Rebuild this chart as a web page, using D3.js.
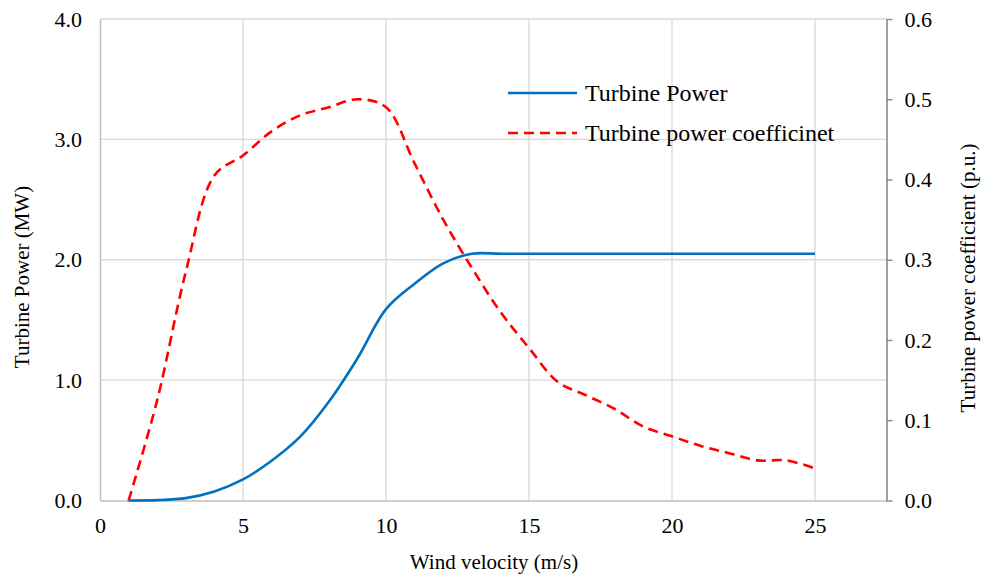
<!DOCTYPE html>
<html>
<head>
<meta charset="utf-8">
<script src="https://cdn.jsdelivr.net/npm/d3@7"></script>
<style>
  body { margin: 0; background: #fff; }
  svg text { font-family: "Liberation Serif", "Times New Roman", serif; fill: #000; }
</style>
</head>
<body>
<svg id="chart" width="983" height="576"></svg>
<script>
// ---- data ----
const windSpeed = [1, 2, 3, 4, 5, 6, 7, 8, 9, 10, 11, 12, 13, 14, 15, 16, 17, 18, 19, 20, 21, 22, 23, 24, 25];
const turbinePower = [0, 0.003, 0.02, 0.075, 0.175, 0.33, 0.53, 0.82, 1.18, 1.59, 1.80, 1.97, 2.05, 2.05, 2.05, 2.05, 2.05, 2.05, 2.05, 2.05, 2.05, 2.05, 2.05, 2.05, 2.05];
const powerCoeff = [0, 0.125, 0.285, 0.405, 0.43, 0.46, 0.48, 0.49, 0.50, 0.49, 0.42, 0.35, 0.29, 0.235, 0.19, 0.148, 0.131, 0.114, 0.092, 0.080, 0.068, 0.059, 0.050, 0.050, 0.040];
const xTicks = [0, 5, 10, 15, 20, 25];
const yLeftTicks = [0, 1, 2, 3, 4];
const yRightTicks = [0, 0.1, 0.2, 0.3, 0.4, 0.5, 0.6];
const seriesNames = ["Turbine Power", "Turbine power coefficinet"];

const svg = d3.select("#chart");
const L = 100, R = 886.5, T = 19, B = 500.5;

const x = d3.scaleLinear().domain([0, 27.5]).range([L, R]);
const yL = d3.scaleLinear().domain([0, 4]).range([B, T]);
const yR = d3.scaleLinear().domain([0, 0.6]).range([B, T]);

// gridlines
svg.append("g").selectAll("line").data(yLeftTicks.filter(d => d > 0)).join("line")
  .attr("x1", L).attr("x2", R).attr("y1", d => yL(d)).attr("y2", d => yL(d))
  .attr("stroke", "#d9d9d9").attr("stroke-width", 1.3);
svg.append("g").selectAll("line").data(xTicks.filter(d => d > 0)).join("line")
  .attr("y1", T).attr("y2", B).attr("x1", d => x(d)).attr("x2", d => x(d))
  .attr("stroke", "#d9d9d9").attr("stroke-width", 1.3);

// left axis
const gl = svg.append("g").attr("transform", `translate(${L},0)`)
  .call(d3.axisLeft(yL).tickValues(yLeftTicks).tickFormat(d3.format(".1f")).tickSize(0).tickPadding(18));
gl.select(".domain").attr("stroke", "#bfbfbf").attr("stroke-width", 1.5);
gl.selectAll("text").style("font-size", "22px");

// bottom axis
const gb = svg.append("g").attr("transform", `translate(0,${B})`)
  .call(d3.axisBottom(x).tickValues(xTicks).tickFormat(d3.format("d")).tickSize(0).tickPadding(17));
gb.select(".domain").attr("stroke", "#bfbfbf").attr("stroke-width", 1.5);
gb.selectAll("text").style("font-size", "22px");

// right axis
const gr = svg.append("g").attr("transform", `translate(${R},0)`)
  .call(d3.axisRight(yR).tickValues(yRightTicks).tickFormat(d3.format(".1f")).tickSizeInner(6).tickSizeOuter(0).tickPadding(12));
gr.select(".domain").attr("stroke", "#808080").attr("stroke-width", 1.5);
gr.selectAll(".tick line").attr("stroke", "#808080").attr("stroke-width", 1.3);
gr.selectAll("text").style("font-size", "22px");

// lines
const powerLine = d3.line().x((d, i) => x(windSpeed[i])).y(d => yL(d)).curve(d3.curveCatmullRom.alpha(0.5));
const cpLine = d3.line().x((d, i) => x(windSpeed[i])).y(d => yR(d)).curve(d3.curveCatmullRom.alpha(0.5));

svg.append("path").datum(powerCoeff).attr("d", cpLine)
  .attr("fill", "none").attr("stroke", "#ff0000").attr("stroke-width", 2.6)
  .attr("stroke-dasharray", "10,6");
svg.append("path").datum(turbinePower).attr("d", powerLine)
  .attr("fill", "none").attr("stroke", "#0070c0").attr("stroke-width", 2.6);

// legend
const leg = svg.append("g");
leg.append("line").attr("x1", 508).attr("x2", 577).attr("y1", 93).attr("y2", 93)
  .attr("stroke", "#0070c0").attr("stroke-width", 2.6);
leg.append("text").attr("x", 585).attr("y", 101).style("font-size", "24px").text(seriesNames[0]);
leg.append("line").attr("x1", 508).attr("x2", 577).attr("y1", 133).attr("y2", 133)
  .attr("stroke", "#ff0000").attr("stroke-width", 2.6).attr("stroke-dasharray", "10,6");
leg.append("text").attr("x", 585).attr("y", 141).style("font-size", "24px").text(seriesNames[1]);

// axis titles
svg.append("text").attr("x", 494).attr("y", 569).attr("text-anchor", "middle")
  .style("font-size", "21px").text("Wind velocity (m/s)");
svg.append("text").attr("transform", "translate(29,277) rotate(-90)").attr("text-anchor", "middle")
  .style("font-size", "21px").text("Turbine Power (MW)");
svg.append("text").attr("transform", "translate(975,278) rotate(-90)").attr("text-anchor", "middle")
  .style("font-size", "21px").text("Turbine power coefficient (p.u.)");
</script>
</body>
</html>
